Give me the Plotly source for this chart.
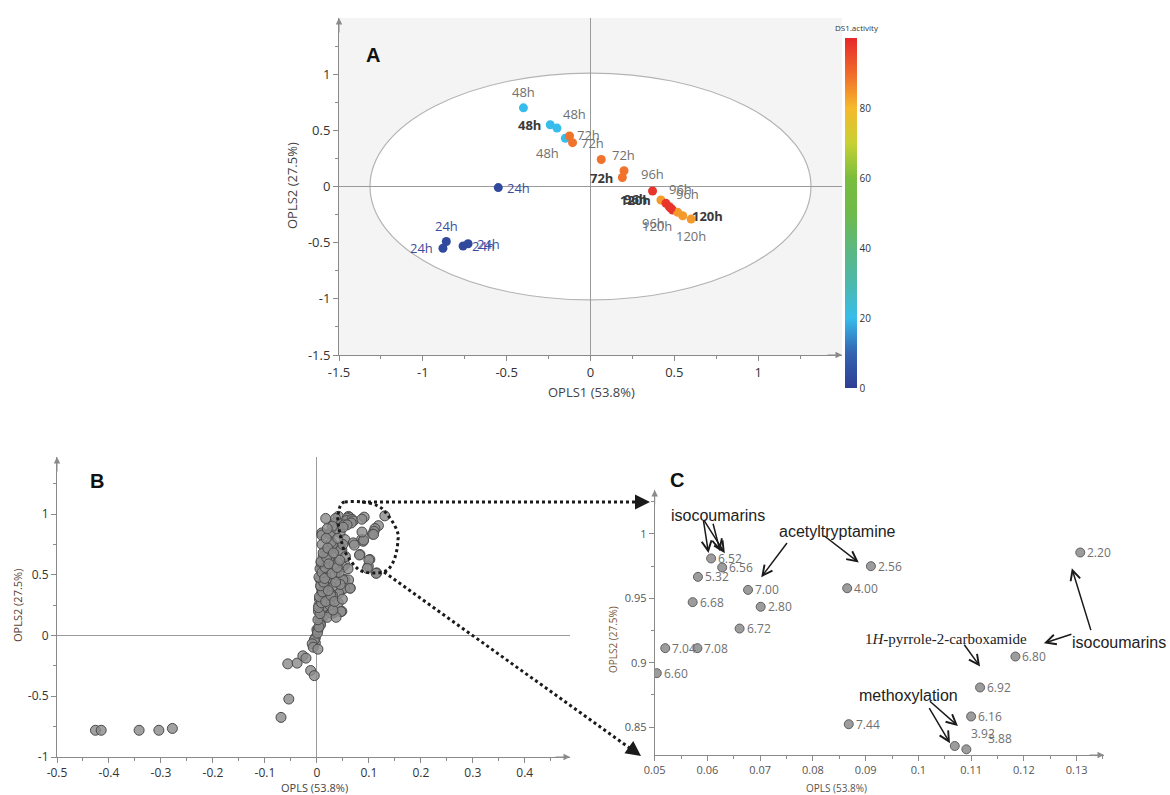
import plotly.graph_objects as go

# ---------------- Panel A: OPLS score plot ----------------
a_t1 = [-0.40, -0.24, -0.20, -0.15, -0.125, -0.107, 0.064, 0.20, 0.19,
        -0.55, -0.86, -0.88, -0.76, -0.73,
        0.37, 0.42, 0.45, 0.47, 0.49, 0.52, 0.55, 0.60, 0.48]
a_t2 = [0.70, 0.55, 0.52, 0.43, 0.45, 0.39, 0.24, 0.14, 0.08,
        -0.01, -0.49, -0.55, -0.53, -0.51,
        -0.04, -0.12, -0.15, -0.18, -0.21, -0.23, -0.26, -0.29, -0.195]
a_activity = [20, 20, 20, 20, 89, 89, 89, 89, 89,
              3, 3, 3, 3, 3,
              98, 84, 98, 98, 98, 84, 84, 84, 98]
a_labels = ["48h", "48h", "48h", "48h", "72h", "72h", "72h", "", "72h",
            "24h", "24h", "24h", "24h", "24h",
            "96h", "120h", "96h", "96h", "96h", "120h", "120h", "120h", "96h"]

# ---------------- Panel B/C: loadings ----------------
# labelled loadings (chemical shift, ppm) -- shown in the zoom panel C
c_labels = ["6.52", "6.56", "5.32", "6.68", "7.00", "2.80", "6.72", "7.04", "7.08", "6.60",
            "2.56", "4.00", "2.20", "6.80", "6.92", "6.16", "7.44", "3.92", "3.88"]
c_x = [0.0607, 0.0628, 0.0582, 0.0572, 0.0677, 0.0701, 0.0661, 0.0520, 0.0581, 0.0504,
       0.0910, 0.0865, 0.1307, 0.1184, 0.1117, 0.1100, 0.0868, 0.1069, 0.1091]
c_y = [0.9809, 0.9739, 0.9666, 0.9470, 0.9565, 0.9434, 0.9265, 0.9113, 0.9113, 0.8919,
       0.9749, 0.9578, 0.9855, 0.9048, 0.8808, 0.8583, 0.8523, 0.8354, 0.8328]

# remaining (unlabelled) loadings, panel B
b_x = [0.0414, 0.035, 0.0096, 0.0255, 0.0446, 0.054, 0.086, 0.070, 0.089, 0.035,
       0.048, 0.016, 0.0287, 0.083, 0.102, 0.099, 0.115, 0.054, 0.041, 0.0096,
       0.016, 0.0064, 0.035, 0.054, 0.064, 0.048, 0.022, 0.0096, 0.0287, 0.016,
       0.041, 0.048, 0.032, 0.0127, 0.0064, 0.0, -0.003, -0.003, 0.0095, 0.026,
       0.017, 0.036, 0.090, 0.072, 0.082, 0.100, 0.097, 0.114, 0.050, 0.061,
       0.050, 0.053, 0.064, 0.042, 0.046, 0.028, 0.013, 0.020, 0.006, 0.007,
       0.002, -0.005, -0.009, -0.007, 0.002,
       0.003, 0.005, 0.008, 0.012, 0.018, 0.022, 0.030, 0.020, 0.025, 0.010,
       0.015, 0.030, 0.035, 0.040, 0.045, 0.050, 0.055, 0.060, 0.025, 0.020,
       0.030, 0.045, 0.012, 0.028, 0.040, 0.038, 0.047, 0.030, 0.020, 0.004,
       0.006, 0.010, 0.014, 0.024, 0.033, 0.043, 0.018, 0.008, 0.026, 0.037,
       0.001, 0.004, 0.002, 0.006, 0.003, 0.009, 0.005, 0.011, 0.007, 0.013,
       0.004, 0.010, 0.016, 0.008, 0.019, 0.012, 0.021, 0.015, 0.023, 0.017,
       0.027, 0.031, 0.034, 0.022, 0.036, 0.029, 0.039, 0.044, 0.032, 0.049,
       -0.069, -0.054, -0.056, -0.038, -0.027, -0.021, -0.012, -0.005,
       -0.426, -0.415, -0.342, -0.304, -0.278]
b_y = [0.982, 0.927, 0.845, 0.845, 0.845, 0.790, 0.790, 0.763, 0.776, 0.722,
       0.708, 0.694, 0.653, 0.667, 0.626, 0.571, 0.516, 0.584, 0.543, 0.571,
       0.502, 0.461, 0.461, 0.461, 0.392, 0.379, 0.379, 0.324, 0.283, 0.241,
       0.269, 0.200, 0.187, 0.159, 0.104, 0.049, -0.019, -0.060, 0.827, 0.833,
       0.964, 0.964, 0.786, 0.745, 0.663, 0.622, 0.553, 0.512, 0.567, 0.458,
       0.458, 0.389, 0.389, 0.348, 0.197, 0.184, 0.238, 0.293, 0.129, 0.088,
       0.047, -0.036, -0.068, -0.096, -0.112,
       0.200, 0.300, 0.400, 0.500, 0.600, 0.700, 0.750, 0.450, 0.550, 0.350,
       0.300, 0.400, 0.500, 0.600, 0.700, 0.750, 0.650, 0.550, 0.250, 0.150,
       0.330, 0.420, 0.650, 0.770, 0.800, 0.880, 0.920, 0.900, 0.880, 0.250,
       0.550, 0.750, 0.420, 0.620, 0.580, 0.520, 0.800, 0.600, 0.350, 0.150,
       0.020, 0.070, 0.130, 0.180, 0.230, 0.270, 0.320, 0.360, 0.410, 0.440,
       0.480, 0.520, 0.560, 0.610, 0.640, 0.680, 0.720, 0.470, 0.590, 0.280,
       0.330, 0.210, 0.280, 0.370, 0.440, 0.510, 0.560, 0.620, 0.680, 0.300,
       -0.674, -0.523, -0.233, -0.227, -0.167, -0.186, -0.288, -0.330,
       -0.780, -0.780, -0.780, -0.780, -0.765]

all_x = b_x + c_x
all_y = b_y + c_y

# ---------------- layout helpers (pixels -> paper) ----------------
W, H = 1170, 795
def px(p):
    return p / W
def py(p):
    return 1 - p / H

FONT = "Open Sans"
AX = "#8a8a8a"

fig = go.Figure()

# Panel A scatter
fig.add_trace(go.Scatter(
    x=a_t1, y=a_t2, mode="markers", xaxis="x", yaxis="y", hoverinfo="skip",
    marker=dict(size=9, color=a_activity, cmin=0, cmax=100,
                colorscale=[[0.0, "#2f3e94"], [0.1, "#3463b2"], [0.2, "#37bdeb"],
                            [0.3, "#4cb8ab"], [0.4, "#5cb87f"], [0.5, "#6eba4a"],
                            [0.6, "#7abd3e"], [0.7, "#c8d133"], [0.8, "#f6b92c"],
                            [0.9, "#f06a2a"], [1.0, "#e6282b"]],
                colorbar=dict(x=px(845), xanchor="left", y=py(388), yanchor="bottom",
                              len=350 / H, lenmode="fraction", thickness=12,
                              outlinewidth=0, ticks="", tickvals=[0, 20, 40, 60, 80],
                              xpad=0, ypad=0,
                              tickfont=dict(size=10, color="#333", family=FONT)),
                line=dict(width=0)),
    showlegend=False))

# Panel B scatter
fig.add_trace(go.Scatter(
    x=all_x, y=all_y, mode="markers", xaxis="x2", yaxis="y2", hoverinfo="skip",
    marker=dict(size=10, color="rgba(140,140,140,0.82)", line=dict(color="#4a4a4a", width=1)),
    showlegend=False))

# Panel C scatter (zoom of the same loadings)
fig.add_trace(go.Scatter(
    x=all_x, y=all_y, mode="markers", xaxis="x3", yaxis="y3", hoverinfo="skip",
    marker=dict(size=9, color="#9c9c9c", line=dict(color="#606060", width=1)),
    showlegend=False))

def axis_style(size, color="#333"):
    return dict(showgrid=False, showline=True, linecolor=AX, linewidth=1,
                ticks="outside", ticklen=5, tickcolor=AX, tickwidth=1,
                zeroline=True, zerolinecolor="#9a9a9a", zerolinewidth=1,
                automargin=False,
                tickfont=dict(size=size, color=color, family=FONT))

layout = dict(width=W, height=H, autosize=False,
              margin=dict(l=0, r=0, t=0, b=0, pad=0),
              paper_bgcolor="white", plot_bgcolor="rgba(0,0,0,0)",
              font=dict(family=FONT))

layout["xaxis"] = dict(axis_style(13), domain=[px(339), px(842)], range=[-1.5, 1.5],
                       anchor="y", tickvals=[-1.5, -1, -0.5, 0, 0.5, 1],
                       ticktext=["-1.5", "-1", "-0.5", "0", "0.5", "1"],
                       minor=dict(tickvals=[-1.25, -0.75, -0.25, 0.25, 0.75, 1.25],
                                  ticklen=3, tickcolor=AX))
layout["yaxis"] = dict(axis_style(13), domain=[py(355), py(18)], range=[-1.5, 1.5],
                       anchor="x", tickvals=[-1.5, -1, -0.5, 0, 0.5, 1],
                       ticktext=["-1.5", "-1", "-0.5", "0", "0.5", "1"],
                       minor=dict(tickvals=[-1.25, -0.75, -0.25, 0.25, 0.75, 1.25],
                                  ticklen=3, tickcolor=AX))
layout["xaxis2"] = dict(axis_style(12), domain=[px(57), px(570)], range=[-0.5, 0.487],
                        anchor="y2", tickvals=[-0.5, -0.4, -0.3, -0.2, -0.1, 0, 0.1, 0.2, 0.3, 0.4],
                        ticktext=["-0.5", "-0.4", "-0.3", "-0.2", "-0.1", "0", "0.1", "0.2", "0.3", "0.4"],
                        minor=dict(dtick=0.05, tick0=0, ticklen=3, tickcolor=AX))
layout["yaxis2"] = dict(axis_style(12), domain=[py(757), py(457)], range=[-1.0, 1.47],
                        anchor="x2", tickvals=[-1, -0.5, 0, 0.5, 1],
                        ticktext=["-1", "-0.5", "0", "0.5", "1"],
                        minor=dict(dtick=0.25, tick0=0, ticklen=3, tickcolor=AX))
layout["xaxis3"] = dict(axis_style(11, "#555"), domain=[px(654.7), px(1104)], range=[0.05, 0.1352],
                        anchor="y3", zeroline=False,
                        tickvals=[0.05, 0.06, 0.07, 0.08, 0.09, 0.1, 0.11, 0.12, 0.13],
                        ticktext=["0.05", "0.06", "0.07", "0.08", "0.09", "0.1", "0.11", "0.12", "0.13"],
                        minor=dict(dtick=0.005, tick0=0.05, ticklen=3, tickcolor=AX))
layout["yaxis3"] = dict(axis_style(11, "#555"), domain=[py(755), py(490)], range=[0.8284, 1.034],
                        anchor="x3", zeroline=False,
                        tickvals=[0.85, 0.9, 0.95, 1.0], ticktext=["0.85", "0.9", "0.95", "1"],
                        minor=dict(dtick=0.025, tick0=0.8, ticklen=3, tickcolor=AX))

shapes = []
# light grey background of panel A and the white Hotelling ellipse
shapes.append(dict(type="rect", xref="x domain", yref="y domain", x0=0, x1=1, y0=0, y1=1,
                   fillcolor="#f4f4f4", line=dict(width=0), layer="below"))
shapes.append(dict(type="circle", xref="x", yref="y", x0=-1.315, x1=1.315, y0=-1.01, y1=1.01,
                   fillcolor="white", line=dict(color="#b4b4b4", width=1.2), layer="below"))

# dotted outline in panel B around the zoomed region
outline = ("M 0.054,1.10 C 0.08,1.112 0.12,1.095 0.131,1.02 C 0.145,0.95 0.16,0.85 0.156,0.79 "
           "C 0.155,0.70 0.15,0.60 0.137,0.543 C 0.125,0.50 0.09,0.51 0.08,0.543 "
           "C 0.065,0.60 0.05,0.70 0.048,0.763 C 0.044,0.85 0.038,0.95 0.041,1.0 "
           "C 0.043,1.06 0.046,1.095 0.054,1.10 Z")
shapes.append(dict(type="path", xref="x2", yref="y2", path=outline,
                   line=dict(color="#1a1a1a", width=3, dash="dot")))
# connectors B -> C
shapes.append(dict(type="line", xref="paper", yref="paper", x0=px(362), y0=py(502),
                   x1=px(638), y1=py(502), line=dict(color="#1a1a1a", width=3, dash="dot")))
shapes.append(dict(type="line", xref="paper", yref="paper", x0=px(384), y0=py(572),
                   x1=px(631), y1=py(749), line=dict(color="#1a1a1a", width=3, dash="dot")))
layout["shapes"] = shapes

ann = []
def text(x, y, s, size, color="#333", xref="paper", yref="paper", angle=0, family=FONT,
         xanchor="center", yanchor="middle", xshift=0, yshift=0):
    ann.append(dict(x=x, y=y, xref=xref, yref=yref, text=s, showarrow=False,
                    textangle=angle, xanchor=xanchor, yanchor=yanchor,
                    xshift=xshift, yshift=yshift,
                    font=dict(size=size, color=color, family=family)))

def arrow(x0, y0, x1, y1, xref, yref, color="#1a1a1a", width=1.5, head=5, size=1.3):
    ann.append(dict(x=x1, y=y1, ax=x0, ay=y0, xref=xref, yref=yref, axref=xref, ayref=yref,
                    text="", showarrow=True, arrowhead=head, arrowsize=size,
                    arrowwidth=width, arrowcolor=color))

def pix_arrow(x, y, xref, yref, dx, dy, color, width=1, size=1.3):
    ann.append(dict(x=x, y=y, xref=xref, yref=yref, ax=dx, ay=dy, text="", showarrow=True,
                    arrowhead=2, arrowsize=size, arrowwidth=width, arrowcolor=color))

# panel letters
text(px(373), py(55), "<b>A</b>", 20, "#111", family="Liberation Sans")
text(px(97), py(481), "<b>B</b>", 20, "#111", family="Liberation Sans")
text(px(677), py(480), "<b>C</b>", 20, "#111", family="Liberation Sans")

# colour bar title
text(px(857), py(28), "DS1.activity", 8, "#333")

# axis titles
text(px(591), py(392), "OPLS1 (53.8%)", 13, "#444")
text(px(292), py(186), "OPLS2 (27.5%)", 13, "#444", angle=-90)
text(px(314), py(787), "OPLS (53.8%)", 11, "#444")
text(px(17), py(606), "OPLS2 (27.5%)", 11, "#5a4030", angle=-90)
text(px(836), py(788), "OPLS (53.8%)", 10, "#555")
text(px(613), py(640), "OPLS2 (27.5%)", 10, "#7a5a3a", angle=-90)

# axis-end arrows (grey)
pix_arrow(1.5, -1.5, "x", "y", -16, 0, AX)
pix_arrow(-1.5, 1.5, "x", "y", 0, 16, AX)
pix_arrow(0.487, -1.0, "x2", "y2", -16, 0, AX)
pix_arrow(-0.5, 1.47, "x2", "y2", 0, 16, AX)
pix_arrow(0.1352, 0.8284, "x3", "y3", -16, 0, AX)
pix_arrow(0.05, 1.034, "x3", "y3", 0, 16, AX)

# panel A point labels (offset in px from the point)
a_offsets = [(0, 16), (-21, 0), (18, 14), (-18, -15), (19, 1), (20, 0), (22, 5), (0, 0), (-21, 0),
             (20, 0), (0, 16), (-21, 0), (20, 0), (20, 0),
             (0, 17), (-25, 0), (-30, 4), (11, 18), (15, 16), (-21, -14), (25, 0), (0, -17), (-17, -15)]
a_bold = {1, 8, 15, 16, 20}
for i, (xv, yv, lab) in enumerate(zip(a_t1, a_t2, a_labels)):
    if not lab:
        continue
    dx, dy = a_offsets[i]
    if lab == "24h":
        col = "#3d4d9e"
    elif i in a_bold:
        col = "#3a3a3a"
    else:
        col = "#707070"
    s = "<b>%s</b>" % lab if i in a_bold else lab
    text(xv, yv, s, 13, col, xref="x", yref="y", xshift=dx, yshift=dy)

# panel C point labels
c_offsets = {"3.92": (14, 12), "3.88": (20, 11)}
for xv, yv, lab in zip(c_x, c_y, c_labels):
    dx, dy = c_offsets.get(lab, (5, 0))
    text(xv, yv, lab, 12, "#707070", xref="x3", yref="y3", xanchor="left", xshift=dx, yshift=dy)

# panel C annotations
SANS = "Liberation Sans"
text(0.0620, 1.0140, "isocoumarins", 16, "#222", xref="x3", yref="y3", family=SANS)
text(0.0846, 1.0020, "acetyltryptamine", 16, "#222", xref="x3", yref="y3", family=SANS)
text(0.1052, 0.9182, "1<i>H</i>-pyrrole-2-carboxamide", 15, "#222", xref="x3", yref="y3",
     family="Liberation Serif")
text(px(1168), py(642), "isocoumarins", 16, "#222", family=SANS, xanchor="right")
text(0.0982, 0.8742, "methoxylation", 16, "#222", xref="x3", yref="y3", family=SANS)

arrow(0.0592, 1.0114, 0.0602, 0.9852, "x3", "y3")
arrow(0.0592, 1.0114, 0.0633, 0.9850, "x3", "y3")
arrow(0.0610, 1.0090, 0.0624, 0.9865, "x3", "y3")
arrow(0.0753, 0.9940, 0.0702, 0.9663, "x3", "y3")
arrow(0.0819, 0.9992, 0.0887, 0.9777, "x3", "y3")
arrow(0.1328, 0.9241, 0.1291, 0.9733, "x3", "y3")
arrow(0.1293, 0.9224, 0.1238, 0.9151, "x3", "y3")
arrow(0.1085, 0.9151, 0.1117, 0.8970, "x3", "y3")
arrow(0.1019, 0.8711, 0.1075, 0.8509, "x3", "y3")
arrow(0.1019, 0.8659, 0.1060, 0.8375, "x3", "y3")

# connector arrowheads (paper coords, pixel offsets)
pix_arrow(px(650), py(502), "paper", "paper", -14, 0, "#1a1a1a", width=2, size=1.5)
pix_arrow(px(641), py(756), "paper", "paper", -11, -8, "#1a1a1a", width=2, size=1.5)

layout["annotations"] = ann
fig.update_layout(**layout)
fig.write_html("out.html", config={"displayModeBar": False},
               post_script="document.body.style.margin='0px';document.body.style.overflow='hidden';")
